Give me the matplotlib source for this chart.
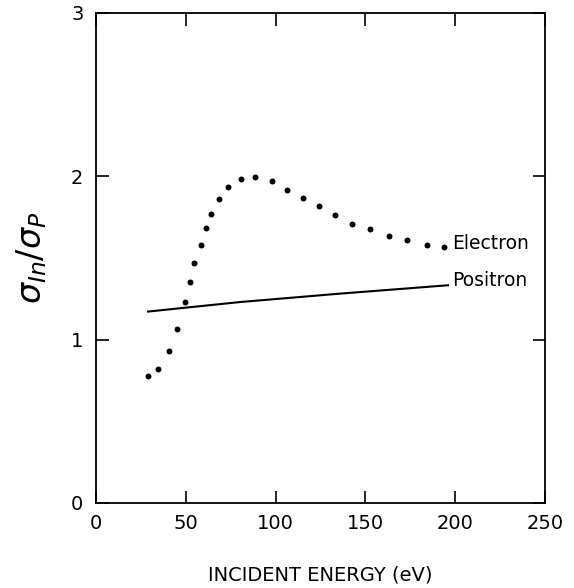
import matplotlib
matplotlib.use("Agg")
import matplotlib.pyplot as plt

electron_energy = [28.8, 34.7, 40.8, 45.1, 49.4, 52.2, 54.6, 58.3, 61.2, 64.2, 68.5, 73.7,
                   80.6, 88.7, 98.0, 106.5, 115.4, 124.0, 132.9, 142.7, 152.4, 163.3,
                   173.3, 184.1, 193.8]
electron_ratio = [0.776, 0.822, 0.932, 1.066, 1.232, 1.350, 1.468, 1.582, 1.683, 1.768,
                  1.863, 1.933, 1.983, 1.995, 1.969, 1.919, 1.866, 1.820, 1.766, 1.710,
                  1.675, 1.634, 1.609, 1.582, 1.567]
positron_energy = [29, 80, 135, 196]
positron_ratio = [1.172, 1.230, 1.281, 1.333]

x_ticks = [0, 50, 100, 150, 200, 250]
y_ticks = [0, 1, 2, 3]

plt.rcParams['font.family'] = ['DejaVu Sans']
fig = plt.figure(figsize=(5.74, 5.88), dpi=100)
ax = fig.add_axes([0.1672, 0.1446, 0.7822, 0.8333])

ax.plot(electron_energy, electron_ratio, 'o', color='black', markersize=4.3, markeredgewidth=0)
ax.plot(positron_energy, positron_ratio, '-', color='black', linewidth=1.5)

ax.text(198.5, 1.59, 'Electron', fontsize=13.5, va='center', ha='left')
ax.text(198.5, 1.36, 'Positron', fontsize=13.5, va='center', ha='left')

ax.set_xlim(0, 250)
ax.set_ylim(0, 3)
ax.set_xticks(x_ticks)
ax.set_yticks(y_ticks)
ax.tick_params(direction='in', length=9, width=1.2, top=True, right=True,
               labelsize=14, pad=9)
ax.tick_params(axis='x', pad=8)
for s in ax.spines.values():
    s.set_linewidth(1.3)

ax.set_xlabel('INCIDENT ENERGY (eV)', fontsize=14, labelpad=23)
ax.set_ylabel(r'$\sigma_{In}/\sigma_{P}$', fontsize=24, labelpad=16)

fig.savefig('out.png', dpi=100)
